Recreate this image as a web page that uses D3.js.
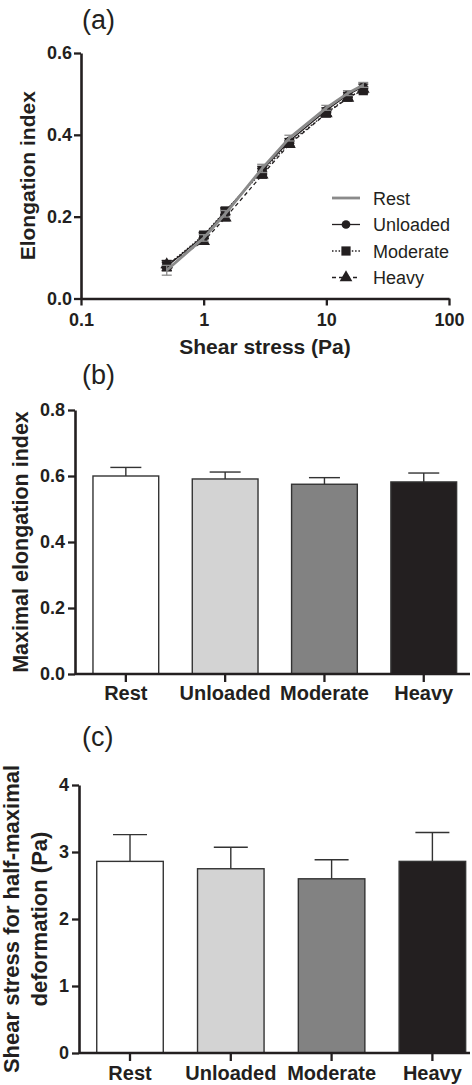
<!DOCTYPE html>
<html><head><meta charset="utf-8">
<script src="https://cdn.jsdelivr.net/npm/d3@7"></script>
<style>
html,body{margin:0;padding:0;background:#fff;}
svg{display:block;}
text{font-family:"Liberation Sans",Arial,Helvetica,sans-serif;fill:#231f20;}
</style></head>
<body>
<script>
// ---------- DATA ----------
const shearStress = [0.5, 1, 1.5, 3, 5, 10, 15, 20];
const seriesNames = ["Rest", "Unloaded", "Moderate", "Heavy"];
const restEI      = [0.069, 0.148, 0.207, 0.318, 0.392, 0.466, 0.502, 0.522];
const unloadedEI  = [0.078, 0.153, 0.212, 0.314, 0.385, 0.460, 0.498, 0.518];
const moderateEI  = [0.080, 0.155, 0.214, 0.310, 0.380, 0.453, 0.492, 0.508];
const heavyEI     = [0.083, 0.140, 0.197, 0.302, 0.377, 0.452, 0.490, 0.512];
const restErr     = [0.012, 0.008, 0.008, 0.010, 0.007, 0.006, 0.006, 0.006];
const unloadedErr = [0.010, 0.007, 0.007, 0.009, 0.006, 0.006, 0.006, 0.006];
const moderateErr = [0.012, 0.007, 0.008, 0.008, 0.006, 0.006, 0.006, 0.006];
const heavyErr    = [0.010, 0.007, 0.007, 0.008, 0.006, 0.006, 0.006, 0.006];
const xTicksA = [0.1, 1, 10, 100];
const yTicksA = [0, 0.2, 0.4, 0.6];

const groups = ["Rest", "Unloaded", "Moderate", "Heavy"];
const maxEI    = [0.600, 0.591, 0.575, 0.582];
const maxEIErr = [0.026, 0.021, 0.020, 0.027];
const yTicksB = [0, 0.2, 0.4, 0.6, 0.8];

const halfSS    = [2.86, 2.75, 2.60, 2.86];
const halfSSErr = [0.40, 0.32, 0.285, 0.43];
const yTicksC = [0, 1, 2, 3, 4];

const barFills = ["#ffffff", "#d3d3d3", "#828282", "#231f20"];
const ink = "#231f20";

// ---------- SVG ----------
const W = 472, H = 1085;
const svg = d3.select("body").append("svg").attr("width", W).attr("height", H);
const FONT = '"Liberation Sans",Arial,Helvetica,sans-serif';

function styleAxis(g, fs) {
  g.selectAll("path.domain").attr("stroke", ink).attr("stroke-width", 2.6);
  g.selectAll(".tick line").attr("stroke", ink).attr("stroke-width", 2.3);
  g.selectAll(".tick text").attr("font-family", FONT).attr("font-size", fs)
    .attr("font-weight", "bold").attr("fill", ink);
}

// ================= PANEL A =================
{
  const x = d3.scaleLog().domain([0.1, 100]).range([81, 449]);
  const y = d3.scaleLinear().domain([0, 0.6]).range([298.5, 53]);
  const g = svg.append("g");

  g.append("text").attr("x", 82).attr("y", 29).attr("font-size", 27).text("(a)");

  const gx = g.append("g").attr("transform", `translate(0,${y(0)})`)
    .call(d3.axisBottom(x).tickValues(xTicksA).tickFormat(d3.format("~g"))
      .tickSize(7).tickSizeOuter(0).tickPadding(7.5));
  styleAxis(gx, 18);
  const gy = g.append("g").attr("transform", `translate(${x(0.1)},0)`)
    .call(d3.axisLeft(y).tickValues(yTicksA).tickFormat(d3.format(".1f"))
      .tickSize(7).tickSizeOuter(0).tickPadding(2));
  styleAxis(gy, 18);

  g.append("text").attr("x", (x(0.1) + x(100)) / 2).attr("y", 354)
    .attr("text-anchor", "middle").attr("font-size", 21).attr("font-weight", "bold")
    .text("Shear stress (Pa)");
  g.append("text").attr("transform", `translate(35,${(y(0) + y(0.6)) / 2}) rotate(-90)`)
    .attr("text-anchor", "middle").attr("font-size", 21).attr("font-weight", "bold")
    .text("Elongation index");

  const series = [
    {name: "Unloaded", vals: unloadedEI, err: unloadedErr, color: ink, width: 1.3, dash: null, marker: "circle"},
    {name: "Moderate", vals: moderateEI, err: moderateErr, color: ink, width: 1.3, dash: "1.5,1.8", marker: "square"},
    {name: "Heavy", vals: heavyEI, err: heavyErr, color: ink, width: 1.3, dash: "4,3", marker: "triangle"},
    {name: "Rest", vals: restEI, err: restErr, color: "#8a8a8a", width: 2.8, dash: null, marker: null}
  ];
  const line = d3.line().x(d => x(d[0])).y(d => y(d[1]));
  const sym = {
    circle: d3.symbol().type(d3.symbolCircle).size(60),
    square: d3.symbol().type(d3.symbolSquare).size(85),
    triangle: d3.symbol().type(d3.symbolTriangle).size(70)
  };
  series.forEach(s => {
    const pts = shearStress.map((xv, i) => [xv, s.vals[i], s.err[i]]);
    const eg = g.append("g");
    pts.forEach(p => {
      eg.append("line").attr("x1", x(p[0])).attr("x2", x(p[0]))
        .attr("y1", y(p[1] - p[2])).attr("y2", y(p[1] + p[2]))
        .attr("stroke", s.color).attr("stroke-width", 1.3);
      [p[1] - p[2], p[1] + p[2]].forEach(v => {
        eg.append("line").attr("x1", x(p[0]) - 5).attr("x2", x(p[0]) + 5)
          .attr("y1", y(v)).attr("y2", y(v))
          .attr("stroke", s.color).attr("stroke-width", 1.3);
      });
    });
    g.append("path").datum(pts).attr("d", line).attr("fill", "none")
      .attr("stroke", s.color).attr("stroke-width", s.width)
      .attr("stroke-dasharray", s.dash);
    if (s.marker) {
      g.selectAll(null).data(pts).enter().append("path")
        .attr("d", sym[s.marker])
        .attr("transform", d => `translate(${x(d[0])},${y(d[1])})`)
        .attr("fill", ink);
    }
  });

  // legend
  const legendOrder = ["Rest", "Unloaded", "Moderate", "Heavy"];
  const lg = g.append("g");
  legendOrder.forEach((nm, i) => {
    const s = series.find(t => t.name === nm);
    const ly = 198 + i * 26.5;
    lg.append("line").attr("x1", 332).attr("x2", 360).attr("y1", ly).attr("y2", ly)
      .attr("stroke", s.color).attr("stroke-width", s.width).attr("stroke-dasharray", s.dash);
    if (s.marker) lg.append("path").attr("d", sym[s.marker]).attr("transform", `translate(346,${ly})`).attr("fill", ink);
    lg.append("text").attr("x", 373).attr("y", ly + 6.5).attr("font-size", 18).text(nm);
  });
}

// ============ BAR PANEL FACTORY ============
function barPanel(opts) {
  const g = svg.append("g");
  const x = d3.scaleBand().domain(groups).range([opts.x0, opts.x1])
    .paddingInner(opts.pi).paddingOuter(opts.po);
  const y = d3.scaleLinear().domain([0, opts.ymax]).range([opts.yb, opts.yt]);

  g.append("text").attr("x", 82).attr("y", opts.labelY).attr("font-size", 27).text(opts.label);

  // bars
  g.selectAll(null).data(groups).enter().append("rect")
    .attr("x", d => x(d)).attr("width", x.bandwidth())
    .attr("y", (d, i) => y(opts.vals[i]))
    .attr("height", (d, i) => y(0) - y(opts.vals[i]))
    .attr("fill", (d, i) => barFills[i]).attr("stroke", "#333").attr("stroke-width", 1.4);
  // error bars (upper only)
  groups.forEach((d, i) => {
    const cx = x(d) + x.bandwidth() / 2;
    const top = opts.vals[i] + opts.errs[i];
    g.append("line").attr("x1", cx).attr("x2", cx).attr("y1", y(opts.vals[i])).attr("y2", y(top))
      .attr("stroke", "#333").attr("stroke-width", 1.4);
    g.append("line").attr("x1", cx - opts.cap / 2).attr("x2", cx + opts.cap / 2)
      .attr("y1", y(top)).attr("y2", y(top)).attr("stroke", "#333").attr("stroke-width", 1.4);
  });

  const gy = g.append("g").attr("transform", `translate(${opts.x0},0)`)
    .call(d3.axisLeft(y).tickValues(opts.ticks).tickFormat(opts.fmt)
      .tickSize(7).tickSizeOuter(0).tickPadding(3));
  styleAxis(gy, 18);
  const gx = g.append("g").attr("transform", `translate(0,${y(0)})`)
    .call(d3.axisBottom(x).tickSize(8).tickSizeOuter(0).tickPadding(opts.xpad));
  gx.select("path.domain").remove();
  gx.append("line").attr("x1", opts.x0).attr("x2", opts.axisEnd).attr("y1", 0).attr("y2", 0)
    .attr("stroke", ink).attr("stroke-width", 2.6);
  styleAxis(gx, 20);

  const t = g.append("text").attr("transform", `translate(${opts.titleX},${(y(0) + y(opts.ymax)) / 2}) rotate(-90)`)
    .attr("text-anchor", "middle").attr("font-size", opts.titleSize).attr("font-weight", "bold");
  opts.title.forEach((ln, k) => {
    t.append("tspan").attr("x", 0).attr("dy", k === 0 ? 0 : opts.lineGap).text(ln);
  });
}

// ================= PANEL B =================
barPanel({
  label: "(b)", labelY: 384,
  x0: 75, x1: 474.6, pi: 0.338, po: 0.181, axisEnd: 470,
  yb: 674, yt: 410, ymax: 0.8, ticks: yTicksB, fmt: d3.format(".1f"),
  vals: maxEI, errs: maxEIErr, cap: 31, xpad: 4,
  title: ["Maximal elongation index"], titleX: 28, titleSize: 21.5, lineGap: 0
});

// ================= PANEL C =================
barPanel({
  label: "(c)", labelY: 746,
  x0: 79, x1: 483.4, pi: 0.34, po: 0.176, axisEnd: 470,
  yb: 1053, yt: 785, ymax: 4, ticks: yTicksC, fmt: d3.format("d"),
  vals: halfSS, errs: halfSSErr, cap: 34, xpad: 5,
  title: ["Shear stress for half-maximal", "deformation (Pa)"], titleX: 19, titleSize: 22, lineGap: 28
});
</script>
</body></html>
